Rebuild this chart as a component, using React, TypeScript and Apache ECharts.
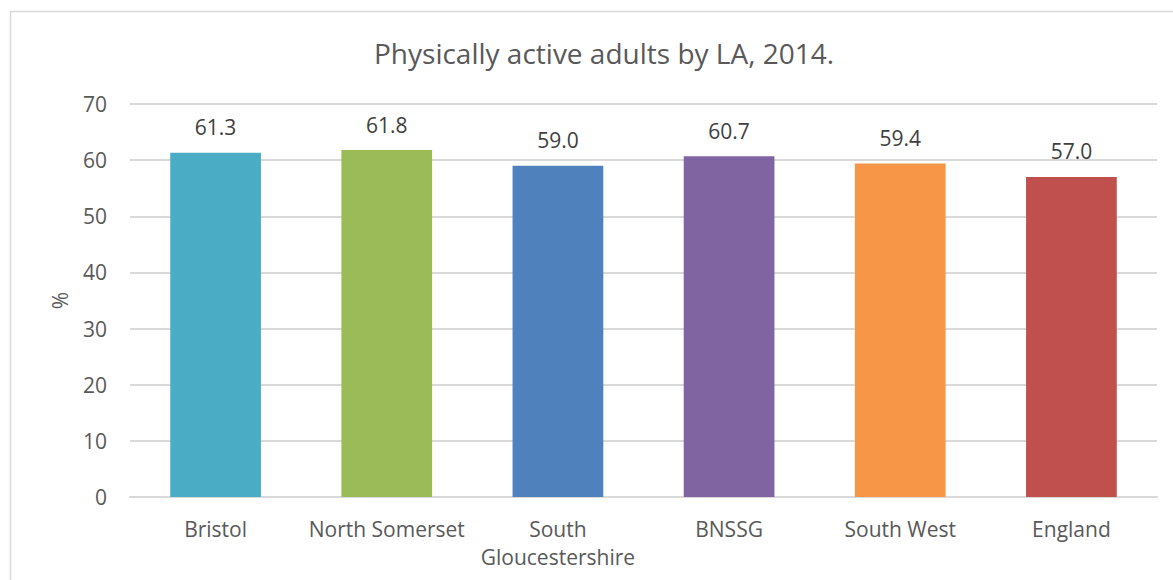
import React, { useEffect, useRef } from "react";
import * as echarts from "echarts";

const categories = ["Bristol", "North Somerset", "South\nGloucestershire", "BNSSG", "South West", "England"];
const values = [61.3, 61.8, 59.0, 60.7, 59.4, 57.0];
const barColors = ["#4BACC6", "#9BBB59", "#4F81BD", "#8064A2", "#F79646", "#C0504D"];
const titleText = "Physically active adults by LA, 2014.";
const yAxisName = "%";

const FONT = "'Open Sans', Lato, sans-serif";

export default function App() {
  const ref = useRef<HTMLDivElement>(null);
  useEffect(() => {
    document.body.style.margin = "0";
    const chart = echarts.init(ref.current!, null, { renderer: "svg" });
    chart.setOption({
      animation: false,
      backgroundColor: "#ffffff",
      graphic: [
        {
          type: "rect",
          shape: { x: 10.5, y: 11.5, width: 1200, height: 600 },
          style: { fill: "none", stroke: "#d9d9d9", lineWidth: 1.5 },
          silent: true,
          z: -10,
        },
      ],
      title: {
        text: titleText,
        left: 369,
        top: 34,
        textStyle: { fontFamily: FONT, fontSize: 28, fontWeight: "normal", color: "#595959" },
      },
      grid: { left: 130, right: 16, top: 104, bottom: 83, containLabel: false },
      xAxis: {
        type: "category",
        data: categories,
        axisLine: { show: true, lineStyle: { color: "#d9d9d9", width: 2 } },
        axisTick: { show: false },
        axisLabel: {
          color: "#595959",
          fontFamily: FONT,
          fontSize: 21,
          margin: 18,
          lineHeight: 28,
          interval: 0,
        },
      },
      yAxis: {
        type: "value",
        min: 0,
        max: 70,
        interval: 10,
        name: yAxisName,
        nameLocation: "middle",
        nameGap: 60,
        nameRotate: 90,
        nameTextStyle: { color: "#595959", fontFamily: FONT, fontSize: 21 },
        axisLine: { show: false },
        axisTick: { show: false },
        axisLabel: { color: "#595959", fontFamily: FONT, fontSize: 21, margin: 23 },
        splitLine: { lineStyle: { color: "#d9d9d9", width: 2 } },
      },
      series: [
        {
          type: "bar",
          data: values.map((v, i) => ({ value: v, itemStyle: { color: barColors[i] } })),
          barWidth: "53%",
          label: {
            show: true,
            position: "top",
            distance: 15,
            formatter: (p: any) => Number(p.value).toFixed(1),
            color: "#404040",
            fontFamily: FONT,
            fontSize: 21,
          },
        },
      ],
    });
    return () => chart.dispose();
  }, []);
  return <div ref={ref} style={{ width: 1173, height: 580 }} />;
}
